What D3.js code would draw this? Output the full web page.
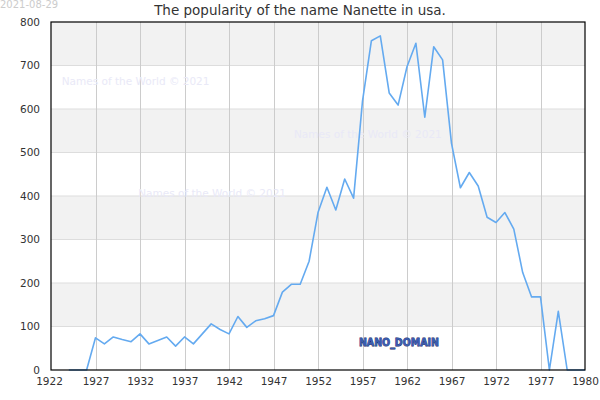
<!DOCTYPE html>
<html><head><meta charset="utf-8">
<script src="https://cdn.jsdelivr.net/npm/d3@7"></script>
<style>body{margin:0;background:#fff;} text{font-family:"DejaVu Sans",sans-serif;}</style>
</head><body>
<svg id="c" width="600" height="400"></svg>
<script>
const years = [1924,1925,1926,1927,1928,1929,1930,1931,1932,1933,1934,1935,1936,1937,1938,1939,1940,1941,1942,1943,1944,1945,1946,1947,1948,1949,1950,1951,1952,1953,1954,1955,1956,1957,1958,1959,1960,1961,1962,1963,1964,1965,1966,1967,1968,1969,1970,1971,1972,1973,1974,1975,1976,1977,1978,1979,1980,1981,1982];
const counts = [0,0,0,74,60,76,70,65,83,60,68,76,55,76,60,83,106,93,83,123,98,113,118,125,179,197,197,250,362,420,368,439,395,618,757,768,637,609,697,751,581,743,713,521,419,454,423,351,339,362,324,224,168,168,0,135,0,0,0];
const xTickValues = [1922,1927,1932,1937,1942,1947,1952,1957,1962,1967,1972,1977,1982];
const xTickLabels = ["1922","1927","1932","1937","1942","1947","1952","1957","1962","1967","1972","1977","1980"];
const yTickValues = [0,100,200,300,400,500,600,700,800];
const bandStarts = [100,300,500,700];
const titleText = "The popularity of the name Nanette in usa.";
const dateText = "2021-08-29";
const watermarks = [{year:1923.2, value:656}, {year:1949.3, value:534}, {year:1931.8, value:398}];

const svg = d3.select("#c");
const m = {l:51, r:15, t:22, b:30};
const W = 600, H = 400;
const x = d3.scaleLinear().domain([1922,1982]).range([m.l, W - m.r]);
const y = d3.scaleLinear().domain([0,800]).range([H - m.b, m.t]);

// bands
svg.selectAll("rect.band").data(bandStarts).join("rect")
  .attr("x", x(1922)).attr("width", x(1982)-x(1922))
  .attr("y", d => y(d+100)).attr("height", d => y(d)-y(d+100))
  .attr("fill", "#f2f2f2");

// horizontal grid
svg.append("g").selectAll("line").data(yTickValues.slice(1,-1)).join("line")
  .attr("x1", x(1922)).attr("x2", x(1982))
  .attr("y1", d => y(d)).attr("y2", d => y(d))
  .attr("stroke", "#dddddd").attr("stroke-width", 1);

// vertical grid
svg.append("g").selectAll("line").data(xTickValues.slice(1,-1)).join("line")
  .attr("x1", d => Math.round(x(d))+0.5).attr("x2", d => Math.round(x(d))+0.5)
  .attr("y1", y(800)).attr("y2", y(0))
  .attr("stroke", "#cccccc").attr("stroke-width", 1);

// watermarks
svg.append("g").selectAll("text").data(watermarks).join("text")
  .attr("x", d => x(d.year)).attr("y", d => y(d.value))
  .attr("font-size", 10.5).attr("fill", "#e9e9f7")
  .text("Names of the World © 2021");

// line
const line = d3.line().x((d,i) => x(years[i])).y(d => y(d));
svg.append("path").datum(counts)
  .attr("d", line).attr("fill", "none")
  .attr("stroke", "#64aaf0").attr("stroke-width", 1.6)
  .attr("stroke-linejoin", "round");

// frame
svg.append("rect").attr("x", x(1922)).attr("y", y(800))
  .attr("width", x(1982)-x(1922)).attr("height", y(0)-y(800))
  .attr("fill", "none").attr("stroke", "#000").attr("stroke-width", 1.2);

// axes
const yAxis = d3.axisLeft(y).tickValues(yTickValues).tickSize(0).tickPadding(11);
const gy = svg.append("g").attr("transform", `translate(${x(1922)},0)`).call(yAxis);
gy.select(".domain").remove();
gy.selectAll("text").attr("font-size", 10.5).attr("fill", "#333").style("font-family","DejaVu Sans");

const xAxis = d3.axisBottom(x).tickValues(xTickValues).tickSize(0).tickPadding(8)
  .tickFormat((d,i) => xTickLabels[i]);
const gx = svg.append("g").attr("transform", `translate(0,${y(0)})`).call(xAxis);
gx.select(".domain").remove();
gx.selectAll("text").attr("font-size", 10.5).attr("fill", "#333").style("font-family","DejaVu Sans")
  .attr("dx", (d,i) => i === 0 ? -2 : 0);

// title
svg.append("text").attr("x", 300).attr("y", 15).attr("text-anchor", "middle")
  .attr("font-size", 13.5).attr("fill", "#333").text(titleText);
svg.append("text").attr("x", 0).attr("y", 8).attr("font-size", 10)
  .attr("fill", "#cccccc").text(dateText);

// domain mark
svg.append("text").attr("x", x(1956.6)).attr("y", y(56)).attr("font-size", 11)
  .attr("font-weight", "bold").attr("fill", "#3a5cb0").attr("stroke", "#14245e")
  .attr("stroke-width", 0.8).attr("paint-order", "stroke")
  .attr("textLength", 80).attr("lengthAdjust", "spacingAndGlyphs")
  .text("NANO_DOMAIN");
</script>
</body></html>
